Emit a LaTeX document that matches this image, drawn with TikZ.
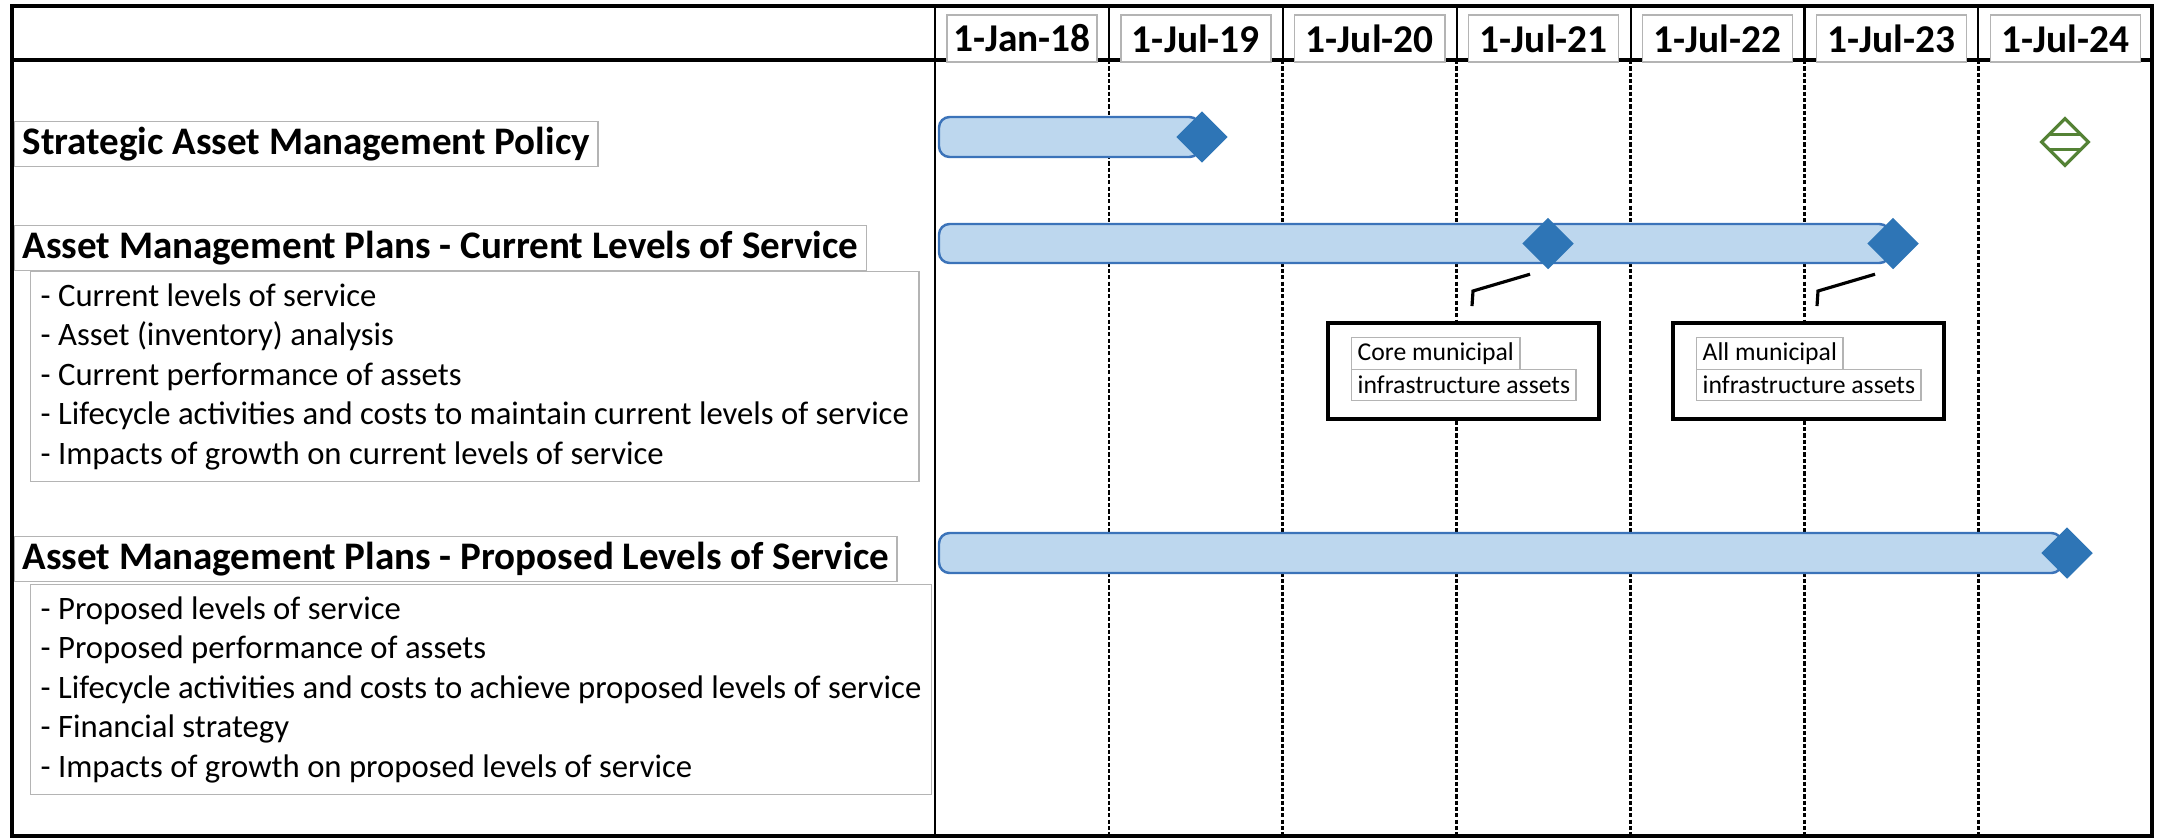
\documentclass[tikz,border=0pt]{standalone}
\usepackage{fontspec}
\setmainfont{Carlito}
\usetikzlibrary{shapes.geometric}
\definecolor{barfill}{HTML}{BDD7EE}
\definecolor{barline}{HTML}{3B73B9}
\definecolor{msblue}{HTML}{2E75B6}
\definecolor{goalgreen}{HTML}{548235}
\definecolor{boxgray}{HTML}{B4B4B4}

\begin{document}
\begin{tikzpicture}[x=0.01cm,y=-0.01cm,
	titlebox/.style={draw=boxgray, line width=0.4pt, anchor=north west, inner xsep=0.08cm, inner ysep=0pt, minimum height=0.45cm, font=\fontsize{11.1}{13}\selectfont\bfseries},
	listbox/.style={draw=boxgray, line width=0.4pt, anchor=north west, align=left, inner xsep=0.1cm, minimum height=1.99cm, font=\fontsize{9.3}{11.25}\selectfont},
	datebox/.style={draw=boxgray, fill=white, line width=0.4pt, minimum width=1.5cm, minimum height=0.47cm, inner sep=0pt, font=\fontsize{11.2}{13}\selectfont\bfseries},
	bar/.style={draw=barline, fill=barfill, line width=0.7pt, rounded corners=3pt},
	milestone/.style={diamond, fill=msblue, minimum width=0.52cm, minimum height=0.52cm, inner sep=0pt},
	goal/.style={diamond, draw=goalgreen, line width=0.9pt, minimum width=0.48cm, minimum height=0.48cm, inner sep=0pt},
	goalline/.style={draw=goalgreen, line width=0.9pt},
	callout/.style={draw, fill=white, line width=1.1pt, minimum width=2.71cm, minimum height=0.96cm},
	notebox/.style={draw=boxgray, line width=0.4pt, anchor=north west, inner xsep=0.06cm, inner ysep=0pt, minimum height=0.315cm, font=\fontsize{7.3}{8.5}\selectfont},
	leader/.style={line width=0.9pt},
	sepline/.style={line width=0.8pt, dash pattern=on 1.2pt off 0.6pt}
]
	\useasboundingbox (0,0) rectangle (2161,839);
	\draw[line width=1.4pt] (12,6) rectangle (2152,836);
	\draw[line width=1.1pt] (12,60) -- (2152,60);
	\draw[line width=0.6pt] (935,6) -- (935,836);
	\foreach \i in {1,...,6} {
		\draw[line width=0.6pt] ({935+173.9*\i},6) -- ({935+173.9*\i},60);
		\draw[sepline] ({935+173.9*\i},60) -- ({935+173.9*\i},836);
	}
	\foreach \d [count=\i from 0] in {1-Jan-18,1-Jul-19,1-Jul-20,1-Jul-21,1-Jul-22,1-Jul-23,1-Jul-24}
		\node[datebox] (d\i) at ({1022+173.9*\i},38.5) {\d};

	\draw[bar] (939,117) rectangle (1200,157);
	\draw[bar] (939,224) rectangle (1890,263);
	\draw[bar] (939,533) rectangle (2062,573);
	\node[milestone] (m1) at (1202,137) {};
	\node[milestone] (m2) at (1548,243.5) {};
	\node[milestone] (m3) at (1893,243.5) {};
	\node[milestone] (m4) at (2067,553) {};
	\node[goal] (g1) at (2065,142) {};
	\draw[goalline] ([shift={(-16.5,-7.5)}]g1.center) -- ([shift={(16.5,-7.5)}]g1.center);
	\draw[goalline] ([shift={(-16.5,7.5)}]g1.center) -- ([shift={(16.5,7.5)}]g1.center);

	\node[titlebox] (t1) at (14,121) {Strategic Asset Management Policy};
	\node[titlebox] (t2) at (14,225) {Asset Management Plans - Current Levels of Service};
	\node[listbox] (l2) at (30,271) {- Current levels of service\\- Asset (inventory) analysis\\- Current performance of assets\\- Lifecycle activities and costs to maintain current levels of service\\- Impacts of growth on current levels of service};
	\node[titlebox] (t3) at (14,536) {Asset Management Plans - Proposed Levels of Service};
	\node[listbox] (l3) at (30,584) {- Proposed levels of service\\- Proposed performance of assets\\- Lifecycle activities and costs to achieve proposed levels of service\\- Financial strategy\\- Impacts of growth on proposed levels of service};

	\node[callout] (c1) at (1463.5,371) {};
	\node[notebox] (n1) at (1351,337) {Core municipal};
	\node[notebox] (n2) at (1351,368.5) {infrastructure assets};
	\node[callout] (c2) at (1808.5,371) {};
	\node[notebox] (n3) at (1696,337) {All municipal};
	\node[notebox] (n4) at (1696,368.5) {infrastructure assets};
	\coordinate (k1) at (1473,291);
	\coordinate (k2) at (1818,291);
	\draw[leader] ([shift={(-18,4)}]m2.south) -- (k1) -- ([shift={(146,-15)}]c1.north west);
	\draw[leader] ([shift={(-18,4)}]m3.south) -- (k2) -- ([shift={(146,-15)}]c2.north west);
\end{tikzpicture}
\end{document}
